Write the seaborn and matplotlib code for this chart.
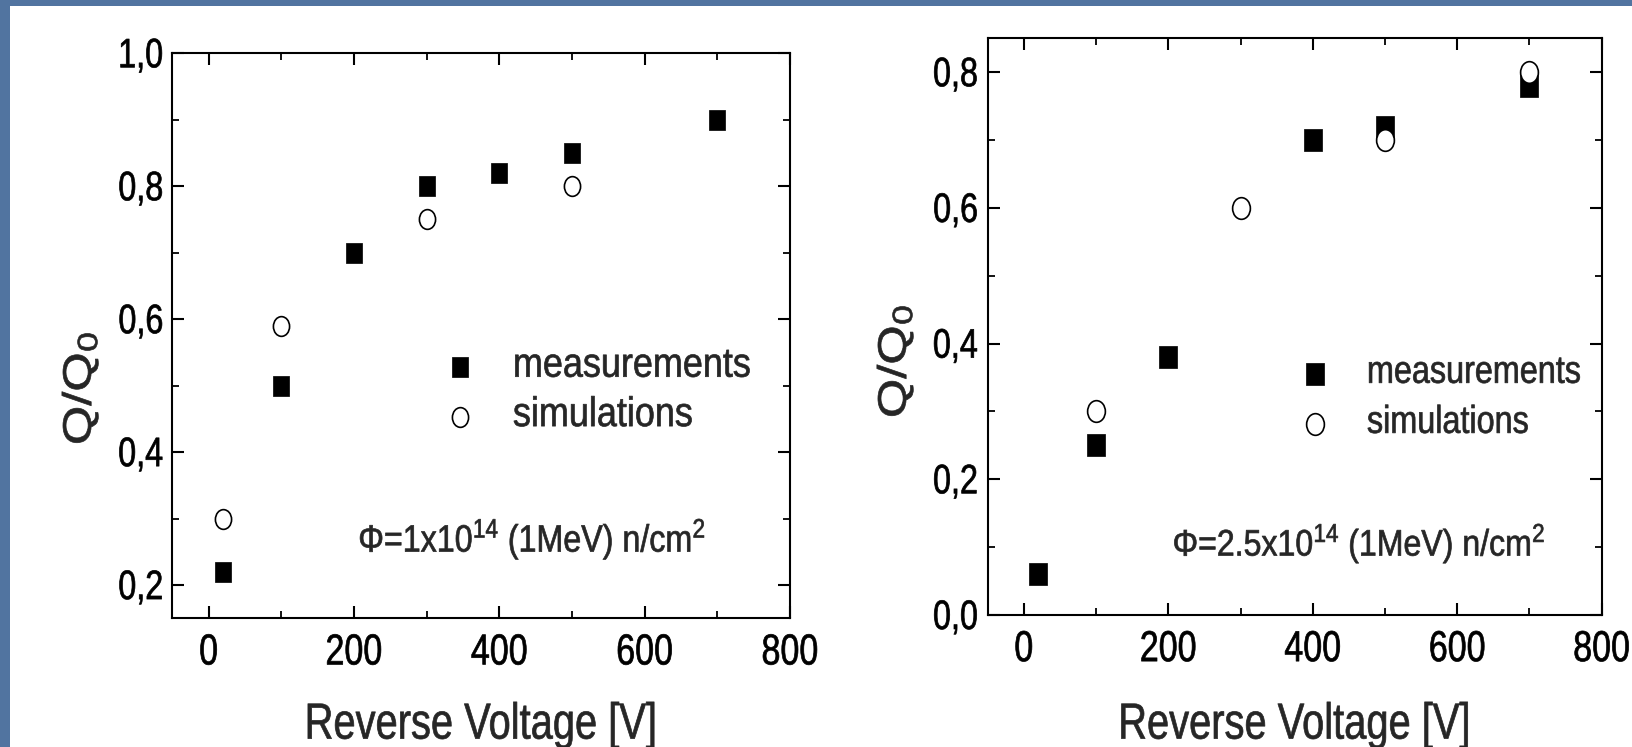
import numpy as np
import matplotlib
matplotlib.use("Agg")
import matplotlib.pyplot as plt
import seaborn as sns
from matplotlib.path import Path
from matplotlib.patches import Rectangle
from matplotlib.ticker import FixedLocator, FuncFormatter
from matplotlib.transforms import Affine2D
from matplotlib import patheffects

# ---- data: charge collection Q/Q0 versus reverse bias ----
volt_meas_1 = [20, 100, 200, 300, 400, 500, 700]
q_meas_1 = [0.22, 0.50, 0.70, 0.80, 0.82, 0.85, 0.90]
volt_sim_1 = [20, 100, 300, 500]
q_sim_1 = [0.30, 0.59, 0.75, 0.80]

volt_meas_2 = [20, 100, 200, 400, 500, 700]
q_meas_2 = [0.06, 0.25, 0.38, 0.70, 0.72, 0.78]
volt_sim_2 = [100, 300, 500, 700]
q_sim_2 = [0.30, 0.60, 0.70, 0.80]

series_labels = ["measurements", "simulations"]
fluence_1 = "Φ=1x10$^{14}$ (1MeV) n/cm$^{2}$"
fluence_2 = "Φ=2.5x10$^{14}$ (1MeV) n/cm$^{2}$"
x_label = "Reverse Voltage [V]"
y_label = "Q/Q$_{0}$"

x_major = [0, 200, 400, 600, 800]
x_minor = [100, 300, 500, 700]
y_major_1 = [0.2, 0.4, 0.6, 0.8, 1.0]
y_minor_1 = [0.3, 0.5, 0.7, 0.9]
y_major_2 = [0.0, 0.2, 0.4, 0.6, 0.8]
y_minor_2 = [0.1, 0.3, 0.5, 0.7]

SLIDE_BLUE = "#5174a0"

sns.set_style("ticks")
plt.rcParams["font.family"] = ["Liberation Sans", "DejaVu Sans"]
plt.rcParams["mathtext.default"] = "regular"
plt.rcParams.update({
    "axes.linewidth": 1.5,
    "axes.edgecolor": "black",
    "xtick.direction": "in",
    "ytick.direction": "in",
    "xtick.top": True,
    "ytick.right": True,
    "xtick.color": "black",
    "ytick.color": "black",
})


class Stretch(patheffects.AbstractPathEffect):
    """Draw text glyphs scaled by (sx, sy) about an anchor of their outline,
    with a thin outline stroke to thicken the strokes."""

    def __init__(self, sx=1.0, sy=1.0, anchor=("center", "center"), stroke=0.5):
        super().__init__()
        self.sx, self.sy, self.anchor, self.stroke = sx, sy, anchor, stroke

    def draw_path(self, renderer, gc, tpath, affine, rgbFace=None):
        ext = tpath.get_extents()
        hx, vy = self.anchor
        cx = {"left": ext.x0, "center": 0.5 * (ext.x0 + ext.x1), "right": ext.x1}[hx]
        cy = {"bottom": ext.y0, "center": 0.5 * (ext.y0 + ext.y1),
              "top": ext.y1, "baseline": 0.0}[vy]
        t = Affine2D().translate(-cx, -cy).scale(self.sx, self.sy).translate(cx, cy) + affine
        gc0 = renderer.new_gc()
        gc0.copy_properties(gc)
        if rgbFace is not None:
            gc0.set_foreground(rgbFace)
        gc0.set_linewidth(self.stroke)
        gc0.set_joinstyle("round")
        renderer.draw_path(gc0, tpath, t, rgbFace)
        gc0.restore()


def rect_marker(aspect):
    v = np.array([[-aspect, -1], [aspect, -1], [aspect, 1], [-aspect, 1], [-aspect, -1]])
    return Path(v, [Path.MOVETO, Path.LINETO, Path.LINETO, Path.LINETO, Path.CLOSEPOLY])


def oval_marker(aspect):
    c = Path.unit_circle()
    return Path(c.vertices * np.array([aspect, 1.0]), c.codes)


comma = FuncFormatter(lambda v, p: f"{v:.1f}".replace(".", ","))

W, H = 1632, 747
fig = plt.figure(figsize=(W / 100, H / 100), dpi=100, facecolor=SLIDE_BLUE)
fig.patches.append(Rectangle((10 / W, 0), 1, 1 - 6 / H, transform=fig.transFigure,
                             facecolor="white", edgecolor="none", zorder=-1))

TALL = 1.27  # vertical elongation of all lettering


def panel(box, vm, qm, vs, qs, ymaj, ymin, ylim, note, cfg):
    l, t, r, b = box
    ax = fig.add_axes([l / W, 1 - b / H, (r - l) / W, (b - t) / H])
    ax.set_facecolor("white")
    ms = cfg["ms"]
    sns.scatterplot(x=vm, y=qm, ax=ax, marker=rect_marker(0.8), s=ms ** 2,
                    color="black", edgecolor="black", linewidth=0.5,
                    label=series_labels[0], legend=False, zorder=3)
    sns.scatterplot(x=vs, y=qs, ax=ax, marker=oval_marker(0.82), s=ms ** 2,
                    color="white", edgecolor="black", linewidth=1.2,
                    label=series_labels[1], legend=False, zorder=4)
    ax.set_xlim(-50, 800)
    ax.set_ylim(*ylim)
    ax.xaxis.set_major_locator(FixedLocator(x_major))
    ax.xaxis.set_minor_locator(FixedLocator(x_minor))
    ax.yaxis.set_major_locator(FixedLocator(ymaj))
    ax.yaxis.set_minor_locator(FixedLocator(ymin))
    ax.yaxis.set_major_formatter(comma)
    ax.tick_params(which="major", length=8.6, width=1.5)
    ax.tick_params(which="minor", length=5.0, width=1.3)
    ax.tick_params(axis="x", which="major", labelsize=cfg["xt_fs"], pad=cfg["xt_pad"])
    ax.tick_params(axis="y", which="major", labelsize=cfg["yt_fs"], pad=cfg["yt_pad"])
    for s in ax.spines.values():
        s.set_visible(True)
        s.set_linewidth(1.5)

    for lbl in ax.get_xticklabels():
        lbl.set_path_effects([Stretch(1.0, TALL, ("center", "top"))])
    for lbl in ax.get_yticklabels():
        lbl.set_path_effects([Stretch(1.0, TALL, ("center", "center"))])

    ax.set_xlabel(x_label, fontsize=cfg["xl_fs"], va="baseline")
    ax.xaxis.set_label_coords(0.5, cfg["xl_y"])
    ax.xaxis.label.set_path_effects([Stretch(1.0, TALL, ("center", "baseline"))])

    # rotated title: the elongation runs along the text direction
    ax.set_ylabel(y_label, fontsize=cfg["yl_fs"], va="center")
    ax.yaxis.set_label_coords(*cfg["yl_xy"])
    ax.yaxis.label.set_path_effects([Stretch(TALL, 1.0, ("center", "center"))])

    leg = ax.legend(loc="upper left", bbox_to_anchor=cfg["leg_xy"], frameon=False,
                    fontsize=cfg["leg_fs"], handlelength=1.0,
                    handletextpad=cfg["leg_htp"], labelspacing=cfg["leg_ls"],
                    borderpad=0, borderaxespad=0, scatterpoints=1)
    for txt in leg.get_texts():
        txt.set_path_effects([Stretch(1.0, cfg["leg_sy"], ("left", "baseline"))])

    ax.text(cfg["note_xy"][0], cfg["note_xy"][1], note, transform=ax.transAxes,
            fontsize=cfg["note_fs"], ha="left", va="baseline",
            path_effects=[Stretch(1.0, cfg["note_sy"], ("left", "baseline"))])
    return ax


cfg1 = dict(ms=14.2, xt_fs=24.5, xt_pad=11.3, yt_fs=23.3, yt_pad=6.5,
            xl_fs=28.7, xl_y=-0.2129, yl_fs=28.7, yl_xy=(-0.1494, 0.4076),
            leg_xy=(0.4366, 0.4754), leg_fs=25.9, leg_htp=0.972, leg_ls=0.40, leg_sy=1.15,
            note_xy=(0.301, 0.118), note_fs=23.2, note_sy=1.18)
cfg2 = dict(ms=15.6, xt_fs=24.5, xt_pad=11.3, yt_fs=23.3, yt_pad=7.0,
            xl_fs=28.7, xl_y=-0.2143, yl_fs=28.7, yl_xy=(-0.151, 0.4404),
            leg_xy=(0.5067, 0.4425), leg_fs=23.3, leg_htp=1.105, leg_ls=0.62, leg_sy=1.2,
            note_xy=(0.301, 0.103), note_fs=23.1, note_sy=1.15)

panel((172.3, 53.3, 790.0, 618.3), volt_meas_1, q_meas_1, volt_sim_1, q_sim_1,
      y_major_1, y_minor_1, (0.15, 1.0), fluence_1, cfg1)
panel((987.7, 38.3, 1601.7, 615.0), volt_meas_2, q_meas_2, volt_sim_2, q_sim_2,
      y_major_2, y_minor_2, (0.0, 0.85), fluence_2, cfg2)

fig.savefig("out.png", dpi=100, facecolor=fig.get_facecolor())
